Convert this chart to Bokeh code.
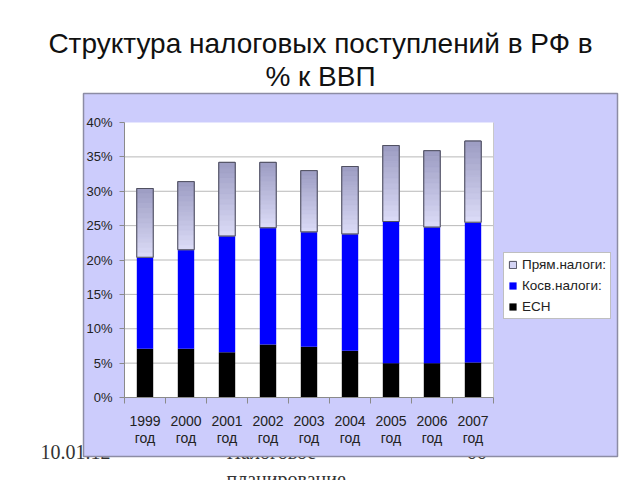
from bokeh.plotting import figure
from bokeh.models import (Range1d, LinearAxis, FixedTicker, PrintfTickFormatter,
                          Label, Legend, LegendItem, ColumnDataSource)
from bokeh.core.properties import value
from bokeh.embed import file_html
from bokeh.resources import INLINE

# ---------------- data ----------------
years = ["1999", "2000", "2001", "2002", "2003", "2004", "2005", "2006", "2007"]
year_suffix = "год"
esn = [7.1, 7.1, 6.6, 7.7, 7.4, 6.8, 5.0, 5.0, 5.1]          # ЕСН
kosv = [13.3, 14.4, 16.9, 17.0, 16.7, 17.0, 20.6, 19.8, 20.4]  # Косв.налоги
pryam = [10.0, 9.9, 10.7, 9.5, 8.9, 9.8, 11.05, 11.1, 11.8]    # Прям.налоги
y_ticks = [0, 5, 10, 15, 20, 25, 30, 35, 40]
series_names = ["Прям.налоги:", "Косв.налоги:", "ЕСН"]
title_lines = ["Структура налоговых поступлений в РФ в", "% к ВВП"]
footer_date = "10.01.12"
footer_center = ["Налоговое", "планирование"]
footer_page = "66"

# ---------------- layout (pixels) ----------------
W, H = 640, 480
PX_X = 41.0      # pixels per category
PX_Y = 6.875     # pixels per percent
AREA_L, AREA_T = 124, 122
BASE_FIX = 8.5   # baseline correction for text placement
n = len(years)
xs = list(range(n))
x0 = -0.5 - AREA_L / PX_X
x1 = x0 + W / PX_X
y1 = max(y_ticks) + AREA_T / PX_Y
y0 = y1 - H / PX_Y


def sx(px):
    return x0 + px / PX_X


def sy(py):
    return y1 - py / PX_Y


p = figure(width=W, height=H, x_range=Range1d(x0, x1), y_range=Range1d(y0, y1),
           x_axis_type=None, y_axis_type=None, min_border=0,
           toolbar_location=None, output_backend="svg",
           outline_line_color=None, background_fill_color="white",
           border_fill_color="white")

FONT = "Liberation Sans"

# footer texts (drawn first, so the chart box hides part of them)
f_txt = [footer_date, footer_center[0], footer_center[1], footer_page]
f_px = [40, 226, 226, 466]
f_py = [460, 460, 487, 460]
p.text(x=[sx(v) for v in f_px], y=[sy(v - BASE_FIX) for v in f_py], text=f_txt,
       text_font=value("Liberation Serif"), text_font_size="20px",
       text_color="#333333", text_baseline="alphabetic", text_align="left")

# chart box and plot area
p.quad(left=[sx(83)], right=[sx(617)], top=[sy(93)], bottom=[sy(456)],
       fill_color="#ccccfc", line_color="#8c8ca4", line_width=1.5)
p.quad(left=[-0.5], right=[n - 0.5], bottom=[0], top=[max(y_ticks)],
       fill_color="white", line_color=None)

# grid lines
grid_y = y_ticks[1:-1]
p.segment(x0=[-0.5] * len(grid_y), x1=[n - 0.5] * len(grid_y), y0=grid_y, y1=grid_y,
          line_color="#b8b8b8", line_width=1)
p.segment(x0=[n - 0.5], x1=[n - 0.5], y0=[0], y1=[max(y_ticks)],
          line_color="#c8c8c8", line_width=1)

# stacked bars
kosv_top = [a + b for a, b in zip(esn, kosv)]
total = [a + b for a, b in zip(kosv_top, pryam)]
src = ColumnDataSource(dict(x=xs, esn=esn, kosv_top=kosv_top, total=total))
BW = 0.4
r_esn = p.vbar(x="x", bottom=0, top="esn", width=BW, fill_color="#000000",
               line_color=None, source=src)
r_kosv = p.vbar(x="x", bottom="esn", top="kosv_top", width=BW, fill_color="#0000ff",
                line_color=None, source=src)
r_pryam = p.vbar(x="x", bottom="kosv_top", top="total", width=BW, fill_color="#d4d4f4",
                 line_color="#505060", line_width=1, source=src)

# gradient shading of the upper segment
N = 14
c_bot = (220, 220, 248)
c_top = (156, 156, 194)
for k in range(N):
    t = (k + 0.5) / N
    col = "#%02x%02x%02x" % tuple(int(round(b + (tp - b) * t)) for b, tp in zip(c_bot, c_top))
    bots = [kt + pr * k / N for kt, pr in zip(kosv_top, pryam)]
    tops = [kt + pr * (k + 1) / N for kt, pr in zip(kosv_top, pryam)]
    p.vbar(x=xs, bottom=bots, top=tops, width=BW, fill_color=col, line_color=col,
           line_width=0.6)
p.vbar(x="x", bottom="kosv_top", top="total", width=BW, fill_color=None,
       line_color="#505060", line_width=1, source=src)

# axes
yaxis = LinearAxis(fixed_location=-0.5, bounds=(0, max(y_ticks)),
                   ticker=FixedTicker(ticks=y_ticks),
                   formatter=PrintfTickFormatter(format="%d%%"),
                   axis_line_color="#8a8a8a", major_tick_line_color="#8a8a8a",
                   major_tick_out=5, major_tick_in=0, minor_tick_line_color=None,
                   major_label_text_font=FONT, major_label_text_font_size="13px",
                   major_label_text_color="#222222", major_label_standoff=7)
p.add_layout(yaxis, "left")

bounds_ticks = [i - 0.5 for i in range(n + 1)]
xaxis_t = LinearAxis(fixed_location=0, bounds=(-0.5, n - 0.5),
                     ticker=FixedTicker(ticks=bounds_ticks),
                     major_label_overrides={t: "" for t in bounds_ticks},
                     axis_line_color="#8a8a8a", major_tick_line_color="#8a8a8a",
                     major_tick_out=6, major_tick_in=0, minor_tick_line_color=None)
p.add_layout(xaxis_t, "below")

xaxis_l = LinearAxis(fixed_location=0, ticker=FixedTicker(ticks=xs),
                     major_label_overrides={i: f"{y}\n{year_suffix}" for i, y in enumerate(years)},
                     axis_line_color=None, major_tick_line_color=None,
                     minor_tick_line_color=None, major_tick_out=0, major_tick_in=0,
                     major_label_text_font=FONT, major_label_text_font_size="14px",
                     major_label_text_line_height=1.1,
                     major_label_text_color="#222222", major_label_standoff=15)
p.add_layout(xaxis_l, "below")

# legend
legend = Legend(items=[LegendItem(label=series_names[0], renderers=[r_pryam]),
                       LegendItem(label=series_names[1], renderers=[r_kosv]),
                       LegendItem(label=series_names[2], renderers=[r_esn])],
                location=(503, H - 319), orientation="vertical",
                border_line_color="#808080", border_line_width=1,
                background_fill_color="white", background_fill_alpha=1.0,
                label_text_font=FONT, label_text_font_size="13.5px",
                label_text_color="#222222",
                glyph_width=9, glyph_height=9, label_standoff=5,
                label_height=14, spacing=6, padding=4, margin=0)
p.add_layout(legend, "center")

# title
for txt, py in [(title_lines[0], 51), (title_lines[1], 84)]:
    p.add_layout(Label(x=sx(320), y=sy(py - BASE_FIX), text=txt, text_font=FONT,
                       text_font_size="28px", text_color="#111111",
                       text_align="center", text_baseline="alphabetic"))

open("out.html", "w").write(file_html(p, INLINE))
